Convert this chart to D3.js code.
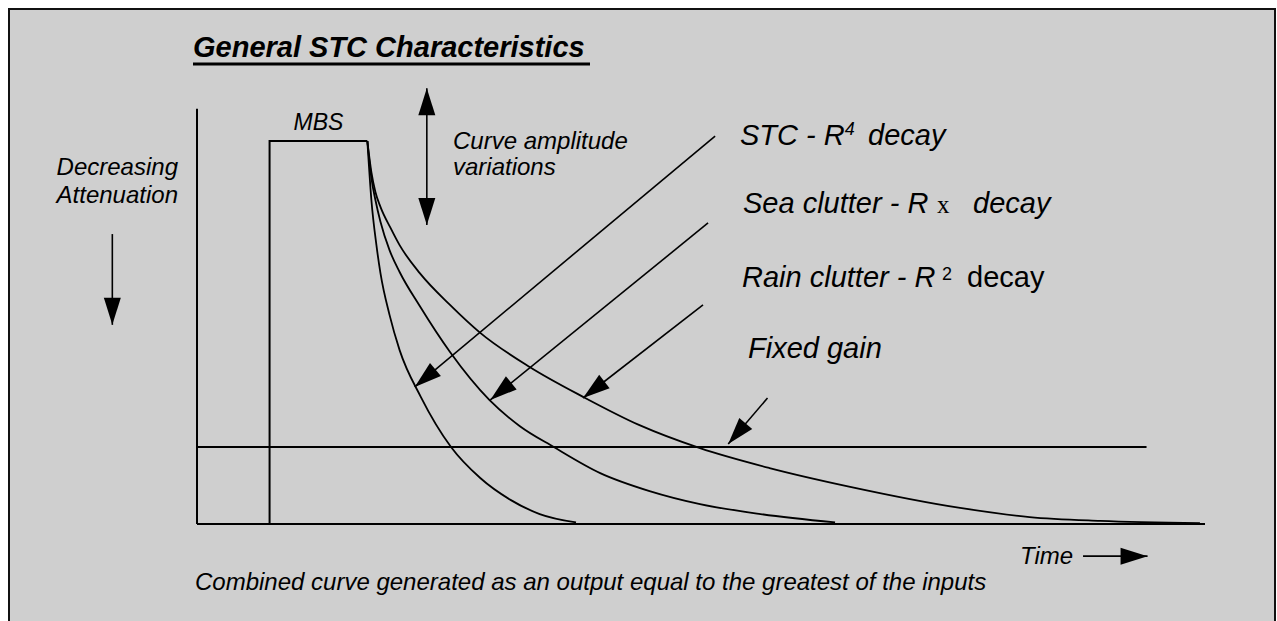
<!DOCTYPE html>
<html>
<head>
<meta charset="utf-8">
<script src="https://cdn.jsdelivr.net/npm/d3@7"></script>
<style>
  body { margin: 0; background: #fff; }
  svg text { font-family: "Liberation Sans", Arial, sans-serif; fill: #000; }
</style>
</head>
<body>
<div id="chart"></div>
<script>
// Time runs 0..100 (arbitrary units), level 100 = MBS plateau height
const mbsStart = 7.2, mbsEnd = 16.9, mbsLevel = 100;
const fixedGainLevel = 20.1, fixedGainEnd = 94.2;
const axisTop = 108.4, baselineEnd = 100;

// [time, level] points
const stcCurve = [[16.9, 100], [17.3, 84.6], [17.8, 72.8], [18.2, 65.5], [19.1, 54.6], [20.1, 45.4],
  [22.2, 33.2], [25.2, 20.1], [28.1, 12], [31.1, 6.3], [34, 2.6], [37.6, 0.4]];
const seaCurve = [[16.9, 100], [17.3, 90.3], [17.7, 84.6], [18.2, 78.9], [19.1, 71.5], [20.1, 65.8],
  [22.1, 56.9], [25.1, 44.9], [29, 32.4], [32, 25.6], [35.4, 20.1], [40, 13.3], [44.9, 8.6],
  [49.9, 5.2], [55.9, 2.6], [63.3, 0.4]];
const rainCurve = [[16.9, 100], [17.3, 91.9], [17.7, 86.7], [18.2, 82.8], [19.2, 77.3], [20.1, 72.8],
  [22.1, 65.5], [25.1, 57.2], [28.1, 49.9], [33, 41], [38.3, 33.2], [43.9, 25.8], [49.9, 19.8],
  [56.8, 14.6], [64.8, 9.7], [75.7, 4.2], [82.6, 1.8], [89.6, 0.8], [99.5, 0.2]];

// annotation arrows: [fromTime, fromLevel, toTime, toLevel, doubleHeaded]
const arrows = [
  [51.4, 101.3, 21.6, 35.8, false],
  [50.7, 78.6, 29.1, 32.4, false],
  [50.2, 57.2, 38.3, 32.9, false],
  [56.6, 32.9, 52.7, 20.9, false],
  [87.9, -8.4, 94.3, -8.4, false],
  [-8.4, 75.7, -8.4, 52.0, false],
  [22.8, 78.1, 22.8, 113.8, true]
];

const titleText = "General STC Characteristics";
const captionText = "Combined curve generated as an output equal to the greatest of the inputs";

const width = 1277, height = 621;

const svg = d3.select("#chart").append("svg")
    .attr("width", width)
    .attr("height", height);

svg.append("rect")
    .attr("x", 9).attr("y", 9)
    .attr("width", 1266).attr("height", 640)
    .attr("fill", "#cfcfcf")
    .attr("stroke", "#111")
    .attr("stroke-width", 2);

const x = d3.scaleLinear().domain([0, 100]).range([197, 1205]);
const y = d3.scaleLinear().domain([0, 100]).range([524, 141]);

const chart = svg.append("g");

// axes and plateau
const lineStyle = sel => sel.attr("stroke", "#000").attr("stroke-width", 2).attr("fill", "none");

chart.append("line").call(lineStyle)
    .attr("x1", x(0)).attr("x2", x(0)).attr("y1", y(0)).attr("y2", y(axisTop));
chart.append("line").call(lineStyle)
    .attr("x1", x(0)).attr("x2", x(baselineEnd)).attr("y1", y(0)).attr("y2", y(0));
chart.append("line").call(lineStyle)
    .attr("x1", x(0)).attr("x2", x(fixedGainEnd)).attr("y1", y(fixedGainLevel)).attr("y2", y(fixedGainLevel));
chart.append("path").call(lineStyle)
    .attr("d", d3.line()([[x(mbsStart), y(0)], [x(mbsStart), y(mbsLevel)], [x(mbsEnd), y(mbsLevel)]]));

const curveLine = d3.line()
    .x(d => x(d[0]))
    .y(d => y(d[1]))
    .curve(d3.curveMonotoneX);

chart.selectAll(".decay")
    .data([stcCurve, seaCurve, rainCurve])
  .join("path")
    .attr("class", "decay")
    .call(lineStyle)
    .attr("stroke-width", 1.8)
    .attr("d", curveLine);

// arrows
function head(tx, ty, fx, fy) {
  const len = 27, half = 8.5;
  const dx = tx - fx, dy = ty - fy;
  const d = Math.hypot(dx, dy);
  const ux = dx / d, uy = dy / d;
  const bx = tx - ux * len, by = ty - uy * len;
  return [[tx, ty], [bx - uy * half, by + ux * half], [bx + uy * half, by - ux * half]];
}

const arrowG = chart.selectAll(".arrow")
    .data(arrows)
  .join("g")
    .attr("class", "arrow");

arrowG.append("line")
    .attr("x1", d => x(d[0])).attr("y1", d => y(d[1]))
    .attr("x2", d => x(d[2])).attr("y2", d => y(d[3]))
    .attr("stroke", "#000").attr("stroke-width", 1.6);

arrowG.append("path")
    .attr("fill", "#000")
    .attr("d", d => d3.line()(head(x(d[2]), y(d[3]), x(d[0]), y(d[1]))) + "Z");

arrowG.filter(d => d[4]).append("path")
    .attr("fill", "#000")
    .attr("d", d => d3.line()(head(x(d[0]), y(d[1]), x(d[2]), y(d[3]))) + "Z");

// texts
svg.append("text")
    .attr("x", 193).attr("y", 57)
    .attr("font-size", 29).attr("font-weight", "bold").attr("font-style", "italic")
    .text(titleText);
svg.append("line")
    .attr("x1", 193).attr("x2", 590).attr("y1", 64).attr("y2", 64)
    .attr("stroke", "#000").attr("stroke-width", 3);

svg.append("text")
    .attr("x", x((mbsStart + mbsEnd) / 2)).attr("y", 130)
    .attr("text-anchor", "middle")
    .attr("font-size", 23).attr("font-style", "italic")
    .text("MBS");

const italic = (t, px, py, size) => svg.append("text")
    .attr("x", px).attr("y", py)
    .attr("font-size", size).attr("font-style", "italic")
    .text(t);

italic("Curve amplitude", 453, 149, 24);
italic("variations", 453, 175, 24);
italic("Decreasing", 178, 175, 24).attr("text-anchor", "end");
italic("Attenuation", 178, 203, 24).attr("text-anchor", "end");
italic("Time", 1020, 564, 24);
italic(captionText, 195, 590, 24);

const stc = italic("STC - R", 740, 145, 29);
stc.append("tspan").attr("font-size", 18).attr("dy", -10).text("4");
stc.append("tspan").attr("x", 868).attr("dy", 10).text("decay");

const sea = italic("Sea clutter - R", 743, 213, 29);
sea.append("tspan").attr("x", 937)
    .attr("font-family", "'Liberation Serif', 'Times New Roman', serif")
    .attr("font-style", "normal").attr("font-size", 25).text("x");
sea.append("tspan").attr("x", 973).text("decay");

const rain = italic("Rain clutter - R", 742, 287, 29);
rain.append("tspan").attr("x", 942).attr("dy", -7)
    .attr("font-style", "normal").attr("font-size", 18).text("2");
rain.append("tspan").attr("x", 967).attr("dy", 7)
    .attr("font-style", "normal").text("decay");

italic("Fixed gain", 748, 358, 29);
</script>
</body>
</html>
